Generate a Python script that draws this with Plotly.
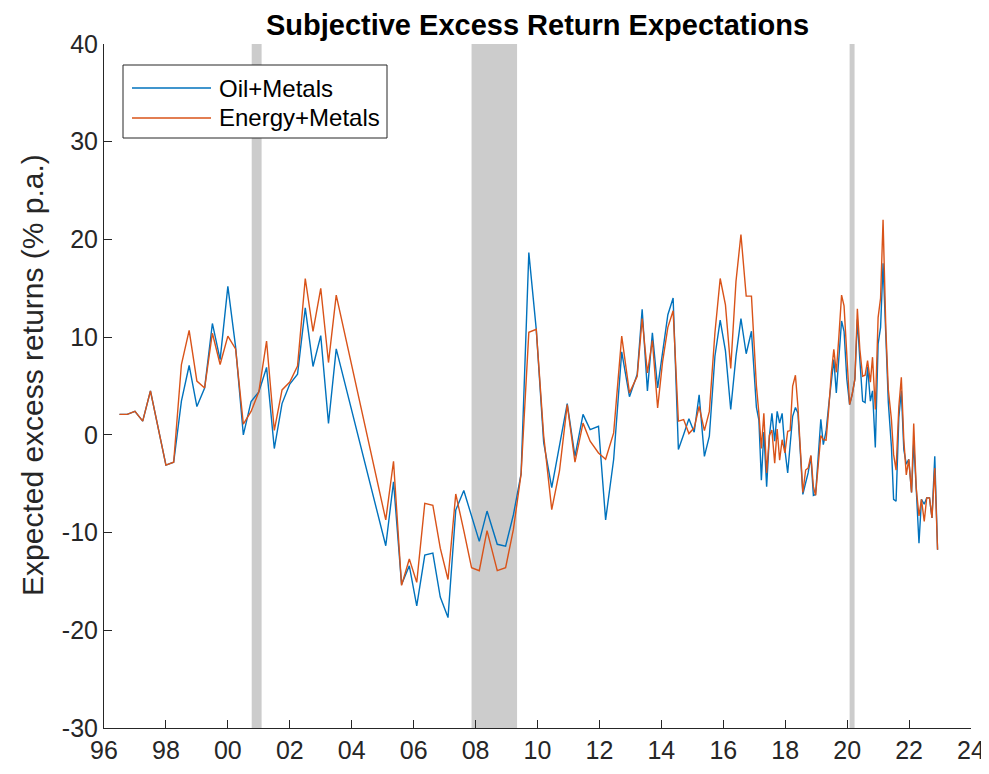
import plotly.graph_objects as go

# decimal-year dates of observations
dates = [
    1996.50, 1996.75, 1997.00, 1997.25, 1997.50, 1997.75, 1998.00, 1998.25, 1998.50, 1998.75,
    1999.00, 1999.25, 1999.50, 1999.75, 2000.00, 2000.25, 2000.50, 2000.75, 2001.00, 2001.25,
    2001.50, 2001.75, 2002.00, 2002.25, 2002.50, 2002.75, 2003.00, 2003.25, 2003.50,
    2005.10, 2005.35, 2005.61, 2005.86, 2006.10, 2006.36, 2006.62, 2006.86, 2007.11, 2007.36,
    2007.62, 2007.87, 2008.12, 2008.37, 2008.70, 2008.97, 2009.22, 2009.47, 2009.72, 2009.96,
    2010.20, 2010.46, 2010.71, 2010.96, 2011.21, 2011.47, 2011.70, 2011.97, 2012.20, 2012.46,
    2012.72, 2012.97, 2013.22,
    2013.38, 2013.55, 2013.71, 2013.88, 2014.04, 2014.21, 2014.38, 2014.55, 2014.72, 2014.89,
    2015.06, 2015.22, 2015.39, 2015.55, 2015.73, 2015.90, 2016.07, 2016.24, 2016.41, 2016.57,
    2016.74, 2016.91,
    2017.07, 2017.15, 2017.23, 2017.31, 2017.40, 2017.49, 2017.57, 2017.66, 2017.74, 2017.82,
    2017.90, 2017.99, 2018.08, 2018.16, 2018.24, 2018.33, 2018.41, 2018.49, 2018.57, 2018.66,
    2018.74, 2018.83, 2018.91, 2018.98, 2019.07, 2019.15, 2019.23, 2019.32, 2019.40, 2019.49,
    2019.57, 2019.65, 2019.73, 2019.82, 2019.90, 2019.99, 2020.08, 2020.16, 2020.25, 2020.33,
    2020.41, 2020.50, 2020.58, 2020.66, 2020.75, 2020.82, 2020.91, 2021.00, 2021.08, 2021.16,
    2021.25, 2021.33, 2021.43, 2021.50, 2021.58, 2021.67, 2021.75, 2021.83, 2021.91, 2021.99,
    2022.08, 2022.15, 2022.23, 2022.32, 2022.40, 2022.49, 2022.57, 2022.66, 2022.74, 2022.83,
    2022.92,
]

oil_metals = [
    2.1, 2.1, 2.4, 1.4, 4.5, 0.7, -3.1, -2.8, 3.45, 7.1,
    2.9, 4.8, 11.4, 7.7, 15.2, 9.0, 0.0, 3.4, 4.4, 6.9,
    -1.4, 3.2, 5.2, 6.2, 13.0, 7.0, 10.15, 1.16, 8.8,
    -11.35, -4.8, -15.3, -13.4, -17.5, -12.3, -12.1, -16.6, -18.7, -7.7,
    -5.7, -8.3, -10.9, -7.8, -11.2, -11.4, -8.2, -4.0, 18.65, 10.8,
    -0.8, -5.4, -1.2, 3.2, -2.2, 2.1, 0.54, 0.88, -8.7, -2.5,
    8.5, 3.9, 6.2,
    12.85, 4.5, 10.45, 4.8, 8.5, 12.3, 14.0, -1.5, 0.03, 1.64,
    0.27, 4.1, -2.2, -0.14, 8.05, 11.75, 8.6, 2.6, 8.05, 11.9,
    8.3, 10.6,
    2.8, 1.5, -4.65, 0.3, -5.3, -0.1, 2.2, -0.65, 2.4, 1.2,
    2.2, -1.5, -3.9, -0.5, 1.9, 2.8, 2.25, -1.9, -6.1, -4.9,
    -3.9, -2.2, -6.2, -6.1, -1.85, 1.6, -1.0, 0.37, 2.9, 5.7,
    7.7, 4.3, 8.05, 11.65, 10.6, 5.7, 3.1, 4.1, 5.7, 11.8,
    7.7, 3.45, 3.3, 7.0, 3.45, 4.5, -1.3, 9.3, 11.0, 17.55,
    10.1, 3.3, -1.2, -6.6, -6.8, 1.8, 4.5, -1.5, -3.0, -2.5,
    -5.9, -0.8, -5.4, -11.1, -6.6, -7.1, -6.45, -6.45, -8.5, -2.2,
    -11.75,
]

energy_metals = [
    2.1, 2.1, 2.4, 1.4, 4.5, 0.7, -3.1, -2.8, 7.2, 10.7,
    5.5, 4.8, 10.4, 7.2, 10.1, 8.8, 1.1, 2.4, 4.4, 9.6,
    0.45, 4.6, 5.4, 7.05, 16.0, 10.6, 15.0, 7.4, 14.3,
    -8.7, -2.7, -15.4, -12.7, -15.1, -7.0, -7.2, -11.6, -14.8, -6.05,
    -9.8, -13.6, -13.9, -9.8, -13.9, -13.6, -9.7, -4.0, 10.5, 10.8,
    -0.1, -7.65, -3.7, 3.1, -2.8, 1.2, -0.65, -1.85, -2.5, 0.2,
    10.1, 4.3, 6.0,
    11.9, 6.35, 9.65, 2.75, 7.5, 11.0, 12.7, 1.4, 1.57, 0.13,
    0.72, 2.9, 0.44, 2.4, 10.45, 16.0, 13.3, 6.8, 15.7, 20.5,
    14.2, 14.2,
    5.0, 2.2, -1.4, 2.2, -3.9, -0.07, 0.5, -2.9, 0.6, -2.6,
    -0.5, -1.85, 0.37, 0.44, 5.0, 6.1, 2.9, -1.5, -5.9, -3.6,
    -3.4, -2.1, -5.3, -6.2, -3.2, -0.07, -0.5, -0.55, 2.4, 6.35,
    8.75, 6.4, 9.9, 14.3, 13.2, 8.05, 3.1, 4.1, 5.7, 12.9,
    8.75, 6.0, 6.1, 7.6, 5.4, 7.95, 2.6, 12.0, 14.0, 22.0,
    10.8, 4.6, 1.6, -2.0, -3.6, 2.9, 5.9, -0.5, -4.1, -2.5,
    -5.9, 1.16, -5.4, -8.3, -6.6, -8.85, -6.45, -6.45, -8.5, -3.4,
    -11.75,
]

series_names = ["Oil+Metals", "Energy+Metals"]
series_colors = ["#0072BD", "#D95319"]

# recession periods (decimal years)
recession_start = [2000.77, 2007.87, 2020.08]
recession_end = [2001.09, 2009.34, 2020.24]

x_tickvals = list(range(1996, 2025, 2))
x_ticktext = ["96", "98", "00", "02", "04", "06", "08", "10", "12", "14", "16", "18", "20", "22", "24"]
y_tickvals = [-30, -20, -10, 0, 10, 20, 30, 40]
y_ticktext = ["-30", "-20", "-10", "0", "10", "20", "30", "40"]

FONT = "Liberation Sans, Arial, Helvetica, sans-serif"
AX = "#262626"

# the page places the figure 8px from the top-left corner (default body margin)
OFF = 8
W, H = 989 - OFF, 774 - OFF
L, R, T, B = 104 - OFF, 18, 44 - OFF, 46
PW, PH = W - L - R, H - T - B


def px_x(px):
    return (px - OFF - L) / PW


def px_y(py):
    return (H - B - (py - OFF)) / PH


fig = go.Figure()
for vals, name, col in zip([oil_metals, energy_metals], series_names, series_colors):
    fig.add_trace(go.Scatter(x=dates, y=vals, mode="lines", name=name,
                             line=dict(color=col, width=1.4), showlegend=False))

for s, e in zip(recession_start, recession_end):
    fig.add_shape(type="rect", xref="x", yref="y", x0=s, x1=e, y0=-30, y1=40,
                  fillcolor="#CCCCCC", line=dict(width=0), layer="below")

# legend box (drawn in MATLAB style)
fig.add_shape(type="rect", xref="paper", yref="paper",
              x0=px_x(123), x1=px_x(387), y0=px_y(138), y1=px_y(65),
              fillcolor="white", line=dict(color=AX, width=1), layer="above")
for i, (name, col) in enumerate(zip(series_names, series_colors)):
    yy = px_y(88 + 30 * i)
    fig.add_shape(type="line", xref="paper", yref="paper",
                  x0=px_x(132), x1=px_x(211), y0=yy, y1=yy,
                  line=dict(color=col, width=1.4), layer="above")
    fig.add_annotation(text=name, xref="paper", yref="paper", x=px_x(217), y=yy,
                       xanchor="left", yanchor="middle", showarrow=False,
                       font=dict(size=24, color="black", family=FONT))

# y axis title
fig.add_annotation(text="Expected excess returns (% p.a.)", xref="paper", yref="paper",
                   x=px_x(32), y=px_y(375), xanchor="center", yanchor="middle",
                   textangle=-90, showarrow=False,
                   font=dict(size=30, color=AX, family=FONT))

fig.update_layout(
    width=W, height=H,
    margin=dict(l=L, r=R, t=T, b=B, autoexpand=False),
    paper_bgcolor="white", plot_bgcolor="white",
    font=dict(family=FONT, color=AX),
    title=dict(text="<b>Subjective Excess Return Expectations</b>",
               font=dict(size=29, color="black", family=FONT),
               x=0.5, xref="paper", xanchor="center",
               y=1 - (25 - OFF) / H, yref="container", yanchor="middle"),
    showlegend=False,
)
fig.update_xaxes(range=[1996, 2024], tickvals=x_tickvals, ticktext=x_ticktext,
                 showline=True, linecolor=AX, linewidth=1, ticks="inside", ticklen=8,
                 tickcolor=AX, showgrid=False, zeroline=False, mirror=False,
                 automargin=False,
                 tickfont=dict(size=25, color=AX, family=FONT))
fig.update_yaxes(range=[-30, 40], tickvals=y_tickvals, ticktext=y_ticktext,
                 showline=True, linecolor=AX, linewidth=1, ticks="inside", ticklen=8,
                 tickcolor=AX, showgrid=False, zeroline=False, mirror=False,
                 automargin=False,
                 tickfont=dict(size=25, color=AX, family=FONT))

fig.write_html("out.html")
